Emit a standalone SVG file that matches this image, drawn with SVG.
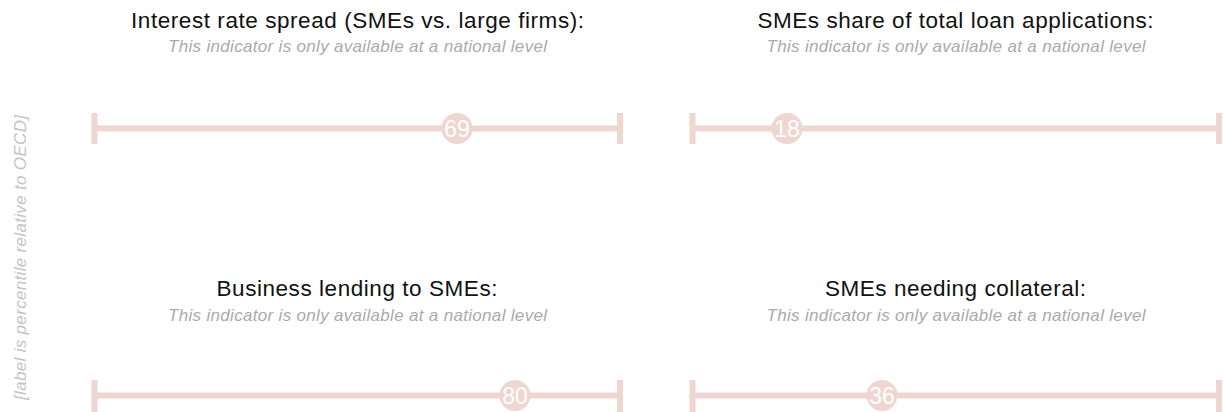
<svg xmlns="http://www.w3.org/2000/svg" width="1224" height="412" viewBox="0 0 1224 412">
<style>
.title{font-family:"Liberation Sans",Arial,sans-serif;font-size:22.5px;fill:#111;text-anchor:middle}
.sub{font-family:"Liberation Sans",Arial,sans-serif;font-size:17px;font-style:italic;fill:#aaa;text-anchor:middle}
.axis{font-family:"Liberation Sans",Arial,sans-serif;font-size:17px;font-style:italic;fill:#c4c4c4;text-anchor:middle}
.bar{stroke:#f0d6d1;stroke-width:6;fill:none}
.dot{fill:#f0d6d1}
.val{font-family:"Liberation Sans",Arial,sans-serif;font-size:23px;fill:#fff;text-anchor:middle}
</style>
<rect width="1224" height="412" fill="#fff"/>
<text class="axis" transform="translate(26,257.5) rotate(-90)" textLength="285">[label is percentile relative to OECD]</text>
<g id="node-interest">
<text class="title" x="357.5" y="27.5" textLength="453">Interest rate spread (SMEs vs. large firms):</text>
<text class="sub" x="357.5" y="52" textLength="379">This indicator is only available at a national level</text>
</g>
<g id="node-share">
<text class="title" x="955.5" y="27.5" textLength="396">SMEs share of total loan applications:</text>
<text class="sub" x="956" y="52" textLength="379">This indicator is only available at a national level</text>
</g>
<g id="node-lending">
<text class="title" x="357" y="296" textLength="281">Business lending to SMEs:</text>
<text class="sub" x="357.5" y="320.5" textLength="379">This indicator is only available at a national level</text>
</g>
<g id="node-collateral">
<text class="title" x="955.5" y="296" textLength="261">SMEs needing collateral:</text>
<text class="sub" x="956" y="320.5" textLength="379">This indicator is only available at a national level</text>
</g>
<g id="connectors">
<path class="bar" d="M94.5 113V144M94.5 128.5H620M620 113V144"/>
<path class="bar" d="M692.5 113V144M692.5 128.5H1219M1219 113V144"/>
<path class="bar" d="M94.5 380V412M94.5 395.5H620M620 380V412"/>
<path class="bar" d="M692.5 380V412M692.5 395.5H1219M1219 380V412"/>
</g>
<g id="marker-69"><circle class="dot" cx="457" cy="128.5" r="15.5"/><text class="val" x="457" y="136.8">69</text></g>
<g id="marker-18"><circle class="dot" cx="787" cy="128.5" r="15.5"/><text class="val" x="787" y="136.8">18</text></g>
<g id="marker-80"><circle class="dot" cx="515" cy="395.5" r="15.5"/><text class="val" x="515" y="403.8">80</text></g>
<g id="marker-36"><circle class="dot" cx="882" cy="395.5" r="15.5"/><text class="val" x="882" y="403.8">36</text></g>
</svg>
